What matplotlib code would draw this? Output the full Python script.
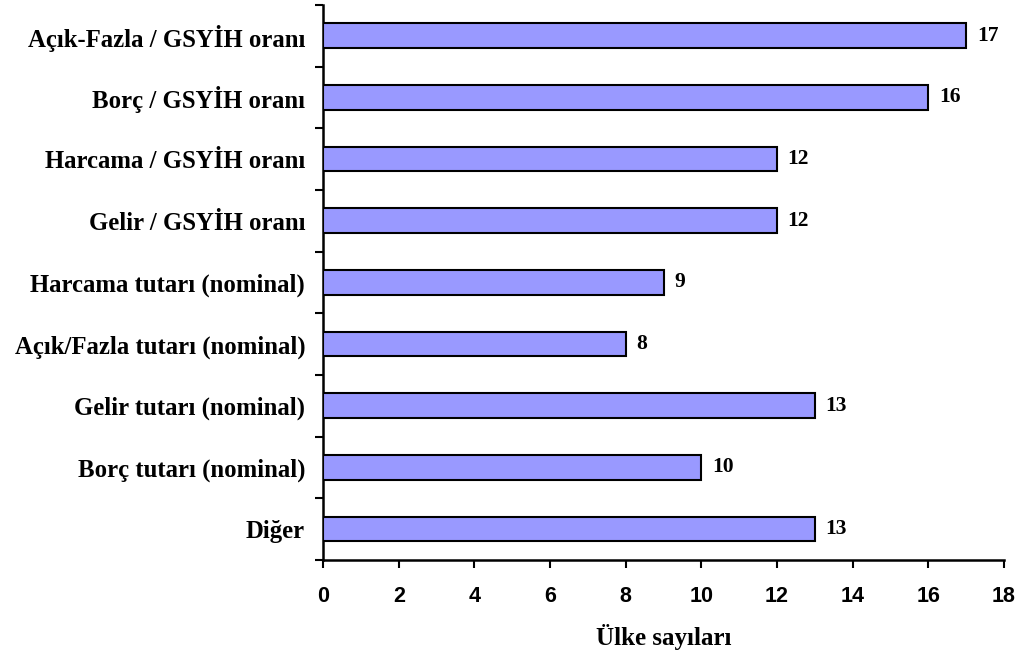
import matplotlib
matplotlib.use("Agg")
import matplotlib.pyplot as plt
import numpy as np

categories = ["Açık-Fazla / GSYİH oranı", "Borç / GSYİH oranı", "Harcama / GSYİH oranı",
              "Gelir / GSYİH oranı", "Harcama tutarı (nominal)", "Açık/Fazla tutarı (nominal)",
              "Gelir tutarı (nominal)", "Borç tutarı (nominal)", "Diğer"]
values = [17, 16, 12, 12, 9, 8, 13, 10, 13]
xticks = [0, 2, 4, 6, 8, 10, 12, 14, 16, 18]

fig = plt.figure(figsize=(10.26, 6.58), dpi=100)
ax = fig.add_axes([0.315, 0.149, 0.9786 - 0.315, 0.9924 - 0.149])

y = np.arange(len(categories))
ax.barh(y, values, height=0.4, color="#9999FF", edgecolor="black", linewidth=1.5, zorder=3)
for yi, v in zip(y, values):
    ax.text(v + 0.28, yi, str(v), va="center", ha="left", fontsize=15.5,
            fontweight="bold", family="Liberation Serif")

ax.set_ylim(len(categories) - 0.5, -0.5)
ax.set_xlim(0, 18)
ax.set_yticks(np.arange(-0.5, len(categories), 1.0))
ax.set_yticklabels([])
ax.set_yticks(y, minor=True)
ax.set_yticklabels(categories, minor=True, fontsize=17.8, fontweight="bold", family="Liberation Serif")
ax.tick_params(axis="y", which="minor", length=0, pad=13)
ax.tick_params(axis="y", which="major", length=6, width=1.5, direction="out")
ax.set_xticks(xticks)
ax.set_xticklabels([str(t) for t in xticks], fontsize=15.5, fontweight="bold", family="Liberation Sans")
ax.tick_params(axis="x", length=6, width=1.5, direction="out", pad=13)

for s in ["top", "right"]:
    ax.spines[s].set_visible(False)
for s in ["left", "bottom"]:
    ax.spines[s].set_linewidth(1.8)

ax.set_xlabel("Ülke sayıları", fontsize=18, fontweight="bold", family="Liberation Serif", labelpad=12)

fig.savefig("out.png", dpi=100)
